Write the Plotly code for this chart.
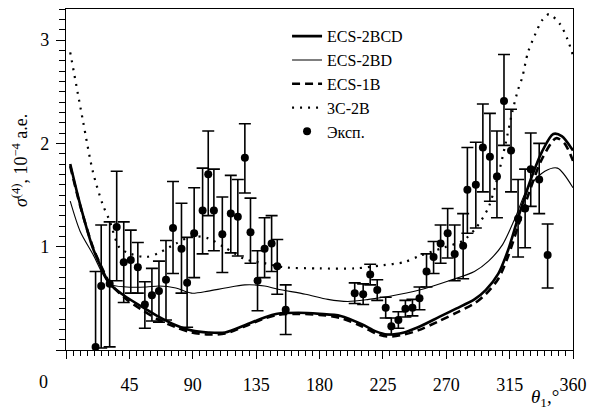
import plotly.graph_objects as go

# ---- theory curves (theta in degrees, sigma in 1e-4 a.u.) ----
th_2bcd = [3, 10, 19, 26, 31, 43, 55, 66, 78, 89, 101, 113, 127, 140, 150, 165, 180, 195, 210, 220, 228, 240, 250, 265, 277, 290, 298, 307, 314, 321, 330, 338, 346, 352, 360]
v_2bcd = [1.80, 1.41, 0.99, 0.77, 0.64, 0.51, 0.41, 0.32, 0.24, 0.19, 0.17, 0.17, 0.24, 0.31, 0.35, 0.36, 0.35, 0.33, 0.25, 0.18, 0.15, 0.17, 0.22, 0.32, 0.40, 0.49, 0.58, 0.74, 0.97, 1.28, 1.65, 1.92, 2.09, 2.07, 1.93]

th_2bd = [3, 10, 19, 31, 43, 57, 66, 78, 89, 101, 113, 127, 141, 150, 170, 186, 200, 215, 230, 251, 272, 290, 300, 310, 319, 328, 340, 349, 360]
v_2bd = [1.44, 1.15, 0.93, 0.64, 0.61, 0.61, 0.62, 0.60, 0.55, 0.57, 0.60, 0.63, 0.62, 0.59, 0.54, 0.49, 0.47, 0.49, 0.52, 0.58, 0.67, 0.76, 0.86, 1.02, 1.28, 1.57, 1.73, 1.76, 1.57]

th_1b = [3, 10, 19, 26, 31, 43, 55, 66, 78, 89, 101, 113, 127, 140, 150, 165, 180, 195, 210, 220, 228, 240, 250, 265, 277, 290, 298, 307, 314, 321, 330, 338, 348, 354, 360]
v_1b = [1.78, 1.40, 1.00, 0.78, 0.65, 0.49, 0.38, 0.29, 0.22, 0.17, 0.15, 0.16, 0.23, 0.30, 0.34, 0.35, 0.34, 0.31, 0.23, 0.16, 0.13, 0.15, 0.19, 0.28, 0.36, 0.45, 0.54, 0.69, 0.91, 1.20, 1.57, 1.85, 2.05, 2.00, 1.83]

th_3c = [3, 12, 19, 26, 31, 38, 46, 57, 66, 78, 89, 101, 113, 127, 141, 155, 180, 205, 225, 240, 251, 268, 282, 291, 300, 307, 312, 317, 321, 324, 328, 333, 338, 343, 351, 356, 360]
v_3c = [2.88, 2.22, 1.73, 1.41, 1.25, 0.99, 0.93, 0.90, 0.94, 1.03, 1.10, 1.08, 0.99, 0.88, 0.84, 0.80, 0.79, 0.79, 0.82, 0.85, 0.91, 0.99, 1.06, 1.18, 1.38, 1.70, 1.99, 2.31, 2.52, 2.64, 2.88, 3.05, 3.19, 3.25, 3.15, 3.01, 2.85]

# ---- experiment ----
th_exp = [21, 25, 31, 36, 41, 46, 51, 56, 61, 66, 71, 76, 82, 86, 91, 97, 101, 105, 111, 117, 122, 127, 131, 136, 141, 146, 150, 156,
          205, 211, 216, 221, 227, 231, 236, 241, 246, 251, 256, 261, 266, 271, 276, 282, 285, 291, 296, 301, 306, 311, 316, 321, 326, 330, 336, 342]
v_exp = [0.03, 0.62, 0.64, 1.19, 0.85, 0.87, 0.80, 0.44, 0.53, 0.57, 0.68, 1.18, 0.98, 0.65, 1.13, 1.35, 1.70, 1.35, 1.12, 1.32, 1.29, 1.86, 1.14, 0.67, 0.98, 1.03, 0.81, 0.39,
         0.55, 0.54, 0.73, 0.58, 0.41, 0.23, 0.29, 0.40, 0.41, 0.50, 0.76, 0.90, 1.03, 1.13, 0.93, 1.01, 1.55, 1.60, 1.96, 1.87, 1.68, 2.41, 1.93, 1.27, 1.37, 1.75, 1.65, 0.92]
err_up = [0.73, 0.59, 0.60, 0.54, 0.39, 0.29, 0.24, 0.22, 0.26, 0.29, 0.38, 0.45, 0.44, 0.44, 0.44, 0.41, 0.42, 0.40, 0.36, 0.37, 0.36, 0.33, 0.33, 0.29, 0.30, 0.27, 0.26, 0.24,
          0.10, 0.10, 0.10, 0.10, 0.10, 0.08, 0.08, 0.08, 0.08, 0.11, 0.17, 0.15, 0.18, 0.24, 0.28, 0.31, 0.41, 0.41, 0.42, 0.42, 0.44, 0.45, 0.40, 0.38, 0.38, 0.35, 0.35, 0.30]
err_dn = [0.73, 0.60, 0.61, 0.52, 0.39, 0.32, 0.25, 0.23, 0.25, 0.30, 0.39, 0.44, 0.43, 0.43, 0.43, 0.42, 0.40, 0.39, 0.37, 0.38, 0.38, 0.34, 0.30, 0.29, 0.28, 0.27, 0.27, 0.24,
          0.10, 0.10, 0.10, 0.10, 0.10, 0.08, 0.08, 0.08, 0.08, 0.11, 0.15, 0.16, 0.19, 0.24, 0.26, 0.32, 0.42, 0.42, 0.43, 0.43, 0.40, 0.43, 0.40, 0.37, 0.38, 0.36, 0.33, 0.32]

x_ticks = [0, 45, 90, 135, 180, 225, 270, 315, 360]
x_ticktext = ["", "45", "90", "135", "180", "225", "270", "315", "360"]
y_ticks = [0, 1, 2, 3]
y_ticktext = ["", "1", "2", "3"]

FONT = "Liberation Serif"

fig = go.Figure()
fig.add_trace(go.Scatter(x=th_2bcd, y=v_2bcd, mode="lines", name="ECS-2BCD",
                         line=dict(color="black", width=2.6, shape="spline", smoothing=0.8)))
fig.add_trace(go.Scatter(x=th_2bd, y=v_2bd, mode="lines", name="ECS-2BD",
                         line=dict(color="black", width=1.1, shape="spline", smoothing=0.8)))
fig.add_trace(go.Scatter(x=th_1b, y=v_1b, mode="lines", name="ECS-1B",
                         line=dict(color="black", width=2.6, dash="8px,5px", shape="spline", smoothing=0.8)))
fig.add_trace(go.Scatter(x=th_3c, y=v_3c, mode="lines", name="3C-2B",
                         line=dict(color="black", width=2.2, dash="2px,6px", shape="spline", smoothing=0.8)))
fig.add_trace(go.Scatter(x=th_exp, y=v_exp, mode="markers", name="Эксп.",
                         marker=dict(color="black", size=8),
                         error_y=dict(type="data", array=err_up, arrayminus=err_dn, symmetric=False,
                                      color="black", thickness=1.6, width=6)))

fig.update_layout(
    width=595, height=413,
    margin=dict(l=66, r=17, t=8, b=63),
    plot_bgcolor="white", paper_bgcolor="white",
    font=dict(family=FONT, size=17, color="black"),
    showlegend=True,
    legend=dict(x=0.436, y=0.97, xanchor="left", yanchor="top",
                font=dict(family=FONT, size=16, color="black"),
                bgcolor="rgba(0,0,0,0)", tracegroupgap=0, itemwidth=30),
    xaxis=dict(range=[0, 360], showgrid=False, zeroline=False, showline=True, linecolor="black",
               linewidth=1.2, mirror=True, tickmode="array", tickvals=x_ticks, ticktext=x_ticktext,
               ticks="outside", ticklen=8, tickwidth=1.2, tickcolor="black", ticklabelstandoff=10,
               tickfont=dict(family=FONT, size=18),
               minor=dict(dtick=5, ticks="outside", ticklen=5, tickwidth=1, tickcolor="black")),
    yaxis=dict(range=[0, 3.3], showgrid=False, zeroline=False, showline=True, linecolor="black",
               linewidth=1.2, mirror=True, tickmode="array", tickvals=y_ticks, ticktext=y_ticktext,
               ticks="outside", ticklen=9, tickwidth=1.2, tickcolor="black", ticklabelstandoff=3,
               tickfont=dict(family=FONT, size=18),
               minor=dict(dtick=0.1, ticks="outside", ticklen=6, tickwidth=1, tickcolor="black")),
    annotations=[
        dict(text="0", xref="paper", yref="paper", x=-0.045, y=-0.095, showarrow=False,
             xanchor="center", yanchor="middle", font=dict(family=FONT, size=18)),
        dict(text="<i>θ</i><sub>1</sub>,°", xref="paper", yref="paper", x=0.945, y=-0.14,
             showarrow=False, xanchor="center", yanchor="middle", font=dict(family=FONT, size=19)),
        dict(text="<i>σ</i><sup>(4)</sup>, 10<sup>−4</sup> а.е.", xref="paper", yref="paper",
             x=-0.09, y=0.555, textangle=-90, showarrow=False, xanchor="center", yanchor="middle",
             font=dict(family=FONT, size=18)),
    ],
)

fig.write_html("out.html")
